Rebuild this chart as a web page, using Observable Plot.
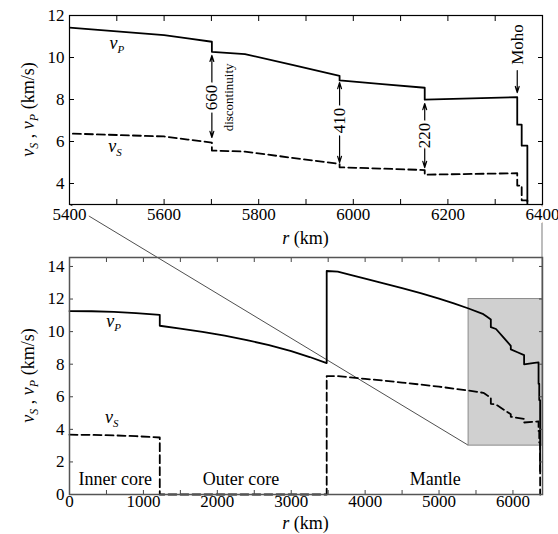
<!DOCTYPE html>
<html><head><meta charset="utf-8">
<script src="https://cdn.jsdelivr.net/npm/d3@7"></script>
<script src="https://cdn.jsdelivr.net/npm/@observablehq/plot@0.6"></script>
<style>
html,body{margin:0;padding:0;background:#fff;}
#chart{position:relative;width:558px;height:534px;font-family:"Liberation Serif","Times New Roman",serif;}
#chart svg{position:absolute;left:0;}
#chart svg text{font-family:"Liberation Serif","Times New Roman",serif !important;}
</style></head><body><div id="chart"></div>
<script>
// ---- data (radius in km, velocities in km/s) ----
const radius = [0, 300, 600, 900, 1221.5, 1221.5, 1500, 1800, 2100, 2400, 2700, 3000, 3250, 3480,
  3480, 3630, 3800, 4000, 4250, 4500, 4750, 5000, 5200, 5400, 5600, 5650, 5701,
  5701, 5771, 5871, 5971, 5971, 6061, 6151, 6151, 6291, 6346.6, 6346.6, 6356, 6356, 6368, 6368, 6371];
const vP = [11.26, 11.25, 11.21, 11.14, 11.03, 10.36, 10.19, 9.99, 9.75, 9.48, 9.17, 8.80, 8.44, 8.07,
  13.72, 13.68, 13.48, 13.25, 12.96, 12.67, 12.36, 12.02, 11.73, 11.42, 11.07, 10.91, 10.75,
  10.27, 10.16, 9.65, 9.13, 8.91, 8.73, 8.56, 7.99, 8.08, 8.11, 6.80, 6.80, 5.80, 5.80, 1.45, 1.45];
const vS = [3.67, 3.66, 3.63, 3.58, 3.50, 0, 0, 0, 0, 0, 0, 0, 0, 0,
  7.27, 7.27, 7.19, 7.10, 6.99, 6.87, 6.75, 6.62, 6.50, 6.38, 6.24, 6.09, 5.95,
  5.57, 5.52, 5.22, 4.93, 4.77, 4.71, 4.64, 4.42, 4.47, 4.49, 3.90, 3.90, 3.20, 3.20, 0, 0];

const zoomR = [5400, 6400];   // zoomed region (top panel domain / grey box)
const zoomV = [3, 12];

const topXTicks = [5400, 5500, 5600, 5700, 5800, 5900, 6000, 6100, 6200, 6300, 6400];
const topXLabels = [5400, 5600, 5800, 6000, 6200, 6400];
const topYTicks = [4, 6, 8, 10, 12];
const botXTicks = [0, 500, 1000, 1500, 2000, 2500, 3000, 3500, 4000, 4500, 5000, 5500, 6000];
const botXLabels = [0, 1000, 2000, 3000, 4000, 5000, 6000];
const botYTicks = [0, 2, 4, 6, 8, 10, 12, 14];

// discontinuity annotations (top panel)
const annotR = [5701, 5971, 6151];
const annotText = ["660", "410", "220"];
const annotTop = [10.10, 8.81, 7.81];
const annotMid = [8.10, 7.00, 6.29];
const annotBottom = [6.19, 5.00, 4.76];
const mohoR = [6346.6];
const mohoText = ["Moho"];
const mohoFrom = [9.38];
const mohoTo = [8.33];
const mohoLabelV = [10.62];
const discR = [5736];
const discV = [8.10];
const discText = ["discontinuity"];

// region labels (bottom panel)
const regionNames = ["Inner core", "Outer core", "Mantle"];
const regionR = [620, 2320, 4950];
const regionV = [0.95, 0.95, 0.95];

// curve labels
const curveLabels = [
  {panel: "top", sub: "P", r: 5501, v: 10.62},
  {panel: "top", sub: "S", r: 5497, v: 5.71},
  {panel: "bot", sub: "P", r: 605, v: 10.57},
  {panel: "bot", sub: "S", r: 579, v: 4.68}
];

const prem = radius.map((r, i) => ({r, vp: vP[i], vs: vS[i]}));
const annot = annotR.map((r, i) => ({r, text: annotText[i], top: annotTop[i], mid: annotMid[i], bottom: annotBottom[i]}));
const moho = mohoR.map((r, i) => ({r, text: mohoText[i], from: mohoFrom[i], to: mohoTo[i], lv: mohoLabelV[i]}));
const disc = discR.map((r, i) => ({r, v: discV[i], text: discText[i]}));
const regions = regionNames.map((n, i) => ({n, r: regionR[i], v: regionV[i]}));
const box = [{x1: zoomR[0], x2: zoomR[1], y1: zoomV[0], y2: zoomV[1]}];

const FONT = "Liberation Serif";
const baseStyle = {background: "transparent", fontFamily: FONT, fontSize: "16px", color: "black", overflow: "visible"};
const noLabel = () => "";

const topPlot = Plot.plot({
  width: 558, height: 250,
  marginLeft: 69, marginRight: 16, marginTop: 15, marginBottom: 46,
  x: {domain: zoomR}, y: {domain: zoomV},
  style: baseStyle,
  marks: [
    Plot.line(prem, {x: "r", y: "vs", stroke: "black", strokeWidth: 1.8, strokeDasharray: "8,4", clip: true}),
    Plot.line(prem, {x: "r", y: "vp", stroke: "black", strokeWidth: 1.8, clip: true}),
    Plot.arrow(annot, {x1: "r", x2: "r", y1: "mid", y2: "top", strokeWidth: 1.2, headLength: 8, headAngle: 35}),
    Plot.arrow(annot, {x1: "r", x2: "r", y1: "mid", y2: "bottom", strokeWidth: 1.2, headLength: 8, headAngle: 35}),
    Plot.text(annot, {x: "r", y: "mid", text: "text", rotate: -90, fontSize: 17, fill: "black", stroke: "white", strokeWidth: 6}),
    Plot.arrow(moho, {x1: "r", x2: "r", y1: "from", y2: "to", strokeWidth: 1.2, headLength: 8, headAngle: 35}),
    Plot.text(moho, {x: "r", y: "lv", text: "text", rotate: -90, fontSize: 17, fill: "black"}),
    Plot.text(disc, {x: "r", y: "v", text: "text", rotate: -90, fontSize: 13, fill: "black"}),
    Plot.axisX({anchor: "bottom", ticks: topXTicks, tickSize: -5, tickFormat: noLabel, label: null}),
    Plot.axisX({anchor: "top", ticks: topXTicks, tickSize: -5, tickFormat: noLabel, label: null}),
    Plot.axisY({anchor: "left", ticks: topYTicks, tickSize: -5, tickFormat: noLabel, label: null}),
    Plot.axisY({anchor: "right", ticks: topYTicks, tickSize: -5, tickFormat: noLabel, label: null}),
    Plot.axisY({anchor: "left", ticks: topYTicks, tickSize: 0, tickPadding: 5, label: null, fontSize: 17}),
    Plot.text(topXLabels, {x: d => d, frameAnchor: "bottom", dy: 15, text: d => String(d), fontSize: 17, fill: "black", stroke: "white", strokeWidth: 6}),
    Plot.frame({stroke: "black", strokeWidth: 1.2})
  ]
});

const botPlot = Plot.plot({
  width: 558, height: 284,
  marginLeft: 69, marginRight: 16, marginTop: 7, marginBottom: 40,
  x: {domain: [0, zoomR[1]]}, y: {domain: [0, 14.55]},
  style: baseStyle,
  marks: [
    Plot.rect(box, {x1: "x1", x2: "x2", y1: "y1", y2: "y2", fill: "#d0d0d0", stroke: "#8a8a8a", strokeWidth: 1}),
    Plot.line(prem, {x: "r", y: "vs", stroke: "black", strokeWidth: 1.8, strokeDasharray: "8,4"}),
    Plot.line(prem, {x: "r", y: "vp", stroke: "black", strokeWidth: 1.8}),
    Plot.text(regions, {x: "r", y: "v", text: "n", fontSize: 18, fill: "black"}),
    Plot.axisX({anchor: "bottom", ticks: botXTicks, tickSize: -4, tickFormat: noLabel, label: null, stroke: "#444"}),
    Plot.axisX({anchor: "top", ticks: botXTicks, tickSize: -4, tickFormat: noLabel, label: null, stroke: "#444"}),
    Plot.axisY({anchor: "left", ticks: botYTicks, tickSize: -4, tickFormat: noLabel, label: null, stroke: "#444"}),
    Plot.axisY({anchor: "right", ticks: botYTicks, tickSize: -4, tickFormat: noLabel, label: null, stroke: "#444"}),
    Plot.axisY({anchor: "left", ticks: botYTicks, tickSize: 0, tickPadding: 5, label: null, fontSize: 17}),
    Plot.text(botXLabels, {x: d => d, frameAnchor: "bottom", dy: 12, text: d => String(d), fontSize: 17, fill: "black"}),
    Plot.frame({stroke: "#555", strokeWidth: 1.5})
  ]
});

const chart = document.getElementById("chart");
const overlay = d3.create("svg").attr("width", 558).attr("height", 534).style("top", "0px");
chart.append(overlay.node());
topPlot.style.position = "absolute"; topPlot.style.top = "0px"; topPlot.style.left = "0px";
botPlot.style.position = "absolute"; botPlot.style.top = "250px"; botPlot.style.left = "0px";
chart.append(topPlot);
chart.append(botPlot);

const tx = topPlot.scale("x"), ty = topPlot.scale("y");
const bx = botPlot.scale("x"), by = botPlot.scale("y");
const BOT_OFF = 250;

// connector lines from the zoomed panel to the grey box
overlay.append("line")
  .attr("x1", tx.apply(zoomR[0])).attr("y1", ty.apply(zoomV[0]))
  .attr("x2", bx.apply(zoomR[0])).attr("y2", BOT_OFF + by.apply(zoomV[0]))
  .attr("stroke", "#222").attr("stroke-width", 0.8);
overlay.append("line")
  .attr("x1", tx.apply(zoomR[1])).attr("y1", ty.apply(zoomV[0]))
  .attr("x2", bx.apply(zoomR[1])).attr("y2", BOT_OFF + by.apply(zoomV[1]))
  .attr("stroke", "#999").attr("stroke-width", 1.3);

function yLabel(svg, yScale) {
  const [a, b] = yScale.range;
  const cy = (a + b) / 2;
  const t = d3.select(svg).append("text")
    .attr("transform", `translate(34,${cy}) rotate(-90)`)
    .attr("text-anchor", "middle").attr("font-family", FONT).attr("font-size", 18).attr("fill", "black");
  t.append("tspan").attr("font-style", "italic").text("v");
  t.append("tspan").attr("font-style", "italic").attr("font-size", 12).attr("dy", 4).text("S");
  t.append("tspan").attr("dy", -4).text(" , ");
  t.append("tspan").attr("font-style", "italic").text("v");
  t.append("tspan").attr("font-style", "italic").attr("font-size", 12).attr("dy", 4).text("P");
  t.append("tspan").attr("dy", -4).text(" (km/s)");
}
function xLabel(svg, xScale, yScale, off) {
  const [a, b] = xScale.range;
  const cx = (a + b) / 2;
  const t = d3.select(svg).append("text")
    .attr("x", cx).attr("y", yScale.range[0] + off)
    .attr("text-anchor", "middle").attr("font-family", FONT).attr("font-size", 18).attr("fill", "black");
  t.append("tspan").attr("font-style", "italic").text("r");
  t.append("tspan").text(" (km)");
}
function curveLabel(svg, xs, ys, d) {
  const t = d3.select(svg).append("text")
    .attr("x", xs.apply(d.r)).attr("y", ys.apply(d.v) + 5)
    .attr("text-anchor", "middle").attr("font-family", FONT).attr("font-size", 18).attr("fill", "black");
  t.append("tspan").attr("font-style", "italic").text("v");
  t.append("tspan").attr("font-style", "italic").attr("font-size", 11).attr("dy", 4).text(d.sub);
}
yLabel(topPlot, ty);
yLabel(botPlot, by);
xLabel(topPlot, tx, ty, 40);
xLabel(botPlot, bx, by, 35);
curveLabels.forEach(d => {
  if (d.panel === "top") curveLabel(topPlot, tx, ty, d);
  else curveLabel(botPlot, bx, by, d);
});
</script></body></html>
